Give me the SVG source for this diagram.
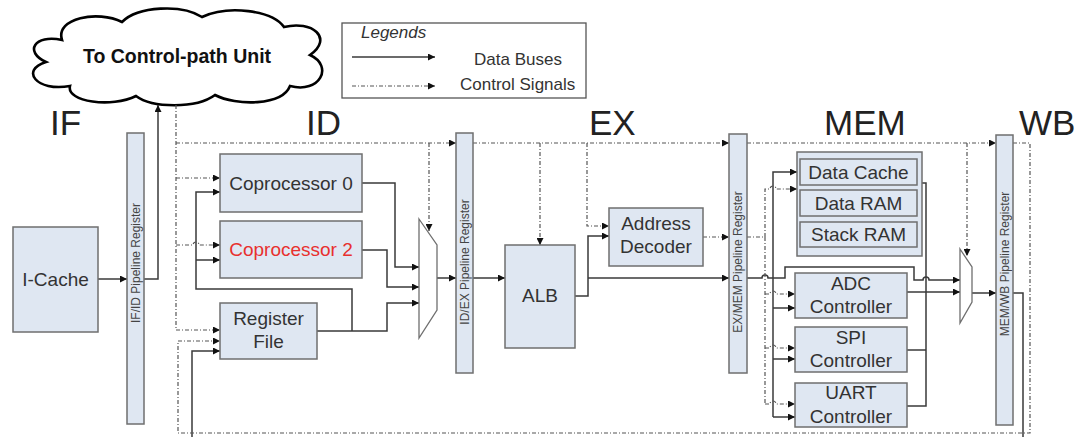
<svg xmlns="http://www.w3.org/2000/svg" width="1083" height="437" viewBox="0 0 1083 437">
  <defs>
    <marker id="arr" viewBox="0 0 10 10" refX="10" refY="5" markerWidth="10" markerHeight="7" markerUnits="userSpaceOnUse" orient="auto">
      <path d="M0,0 L10,5 L0,10 z" fill="#111"/>
    </marker>
    <style>
      text { font-family: "Liberation Sans", Arial, sans-serif; fill: #333; }
      .box { fill: #dfe7f2; stroke: #6f6f6f; stroke-width: 1.5; }
      .reg { fill: #dfe7f2; stroke: #6f6f6f; stroke-width: 1.5; }
      .mux { fill: #fff; stroke: #6f6f6f; stroke-width: 1.3; }
      .lbl { font-size: 19px; text-anchor: middle; }
      .stage { font-size: 35px; fill: #222; }
      .vreg { font-size: 12px; text-anchor: middle; fill: #444; }
      .data { fill: none; stroke: #3a3a3a; stroke-width: 1.5; }
      .ctrl { fill: none; stroke: #555; stroke-width: 1.2; stroke-dasharray: 4 2 1 2; }
      .arrow { marker-end: url(#arr); }
    </style>
  </defs>
  <rect width="1083" height="437" fill="#fff"/>

  <!-- cloud -->
  <g id="cloud">
    <path d="M62,40 C55,18 98,10 122,22 C138,6 182,4 202,17 C228,5 272,10 284,27 C312,20 334,38 310,55 C334,66 320,94 290,86 C282,106 236,106 215,95 C196,109 152,108 136,96 C112,108 66,102 70,86 C36,92 20,70 46,62 C24,52 34,34 62,40 Z" fill="#fff" stroke="#000" stroke-width="2.6"/>
    <text x="177" y="63" font-size="19.5" font-weight="bold" text-anchor="middle" style="fill:#111">To Control-path Unit</text>
  </g>

  <!-- legend -->
  <g id="legend">
    <rect x="342" y="23" width="244" height="75" fill="#fff" stroke="#555" stroke-width="1.3"/>
    <text x="361" y="38" font-size="17" font-style="italic">Legends</text>
    <path class="data arrow" d="M352,57 H435"/>
    <path class="ctrl arrow" d="M352,86 H435"/>
    <text x="474" y="65" font-size="17">Data Buses</text>
    <text x="460" y="90" font-size="17">Control Signals</text>
  </g>

  <!-- stage titles -->
  <g id="stages">
    <text class="stage" x="50" y="135">IF</text>
    <text class="stage" x="306" y="135">ID</text>
    <text class="stage" x="589" y="135">EX</text>
    <text class="stage" x="824" y="135">MEM</text>
    <text class="stage" x="1019" y="135">WB</text>
  </g>

  <!-- connectors -->
  <g id="connectors">
    <!-- data buses -->
    <path class="data arrow" d="M98,279 H127"/>
    <path class="data arrow" d="M144,279 H158 V105"/>
    <path class="data arrow" d="M362,183 H395 V267 H419"/>
    <path class="data arrow" d="M362,250 H387 V287 H419"/>
    <path class="data arrow" d="M317,331 H387 V303 H419"/>
    <path class="data arrow" d="M352,331 V289 H196 V192 H220"/>
    <path class="data arrow" d="M196,260 H220"/>
    <path class="data arrow" d="M437,278 H456"/>
    <path class="data arrow" d="M473,278 H505"/>
    <path class="data arrow" d="M575,296 H588 V236 H609"/>
    <path class="data arrow" d="M588,278 H729"/>
    <path class="data arrow" d="M747,278 H762 a3,3 0 0 1 6,0 H785 V267 H914 V280 H923 a3,3 0 0 1 6,0 H960"/>
    <path class="data arrow" d="M773,278 V172 H797"/>
    <path class="data" d="M773,278 V417"/>
    <path class="data arrow" d="M773,308 H795"/>
    <path class="data arrow" d="M773,359 H795"/>
    <path class="data arrow" d="M773,417 H795"/>
    <path class="data" d="M922,183 H926 V406 H907"/>
    <path class="data" d="M907,350 H926"/>
    <path class="data arrow" d="M907,292 H960"/>
    <path class="data arrow" d="M972,293 H996"/>
    <path class="data arrow" d="M1013,293 H1023 V439 H192 V351 H220"/>

    <!-- control signals -->
    <path class="ctrl arrow" d="M176,105 V330 H220"/>
    <path class="ctrl arrow" d="M176,143 H456"/>
    <path class="ctrl arrow" d="M176,178 H220"/>
    <path class="ctrl arrow" d="M176,245 H193 a3,3 0 0 1 6,0 H220"/>
    <path class="ctrl arrow" d="M429,143 V231"/>
    <path class="ctrl arrow" d="M473,143 H729"/>
    <path class="ctrl arrow" d="M540,143 V245"/>
    <path class="ctrl arrow" d="M587,143 V226 H609"/>
    <path class="ctrl arrow" d="M703,237 H729"/>
    <path class="ctrl arrow" d="M747,143 H996"/>
    <path class="ctrl arrow" d="M967,143 V256"/>
    <path class="ctrl arrow" d="M1013,143 H1030 V433 H178 V341 H220"/>
    <path class="ctrl" d="M747,237 H765"/>
    <path class="ctrl arrow" d="M765,237 V189 H770 a3,3 0 0 1 6,0 H797"/>
    <path class="ctrl" d="M765,237 V404"/>
    <path class="ctrl arrow" d="M765,294 H770 a3,3 0 0 1 6,0 H795"/>
    <path class="ctrl arrow" d="M765,348 H770 a3,3 0 0 1 6,0 H795"/>
    <path class="ctrl arrow" d="M765,404 H770 a3,3 0 0 1 6,0 H795"/>
  </g>

  <!-- IF stage -->
  <g id="icache">
    <rect class="box" x="13" y="227" width="85" height="105"/>
    <text class="lbl" x="55.5" y="286">I-Cache</text>
  </g>
  <g id="ifid-reg">
    <rect class="reg" x="127" y="133" width="17" height="291"/>
    <text class="vreg" transform="translate(140,263) rotate(-90)">IF/ID Pipeline Register</text>
  </g>

  <!-- ID stage -->
  <g id="coprocessor0">
    <rect class="box" x="220" y="154" width="142" height="58"/>
    <text class="lbl" x="291" y="190">Coprocessor 0</text>
  </g>
  <g id="coprocessor2">
    <rect class="box" x="220" y="221" width="142" height="57"/>
    <text class="lbl" x="291" y="256" style="fill:#e8302e">Coprocessor 2</text>
  </g>
  <g id="register-file">
    <rect class="box" x="220" y="303" width="97" height="56"/>
    <text class="lbl" x="268.5" y="325">Register</text>
    <text class="lbl" x="268.5" y="348">File</text>
  </g>
  <g id="id-mux">
    <polygon class="mux" points="419,219 437,245 437,310 419,338"/>
  </g>
  <g id="idex-reg">
    <rect class="reg" x="456" y="133" width="17" height="240"/>
    <text class="vreg" transform="translate(469,262) rotate(-90)">ID/EX Pipeline Register</text>
  </g>

  <!-- EX stage -->
  <g id="alb">
    <rect class="box" x="505" y="245" width="70" height="103"/>
    <text class="lbl" x="540" y="302">ALB</text>
  </g>
  <g id="address-decoder">
    <rect class="box" x="609" y="208" width="94" height="58"/>
    <text class="lbl" x="656" y="230">Address</text>
    <text class="lbl" x="656" y="253">Decoder</text>
  </g>
  <g id="exmem-reg">
    <rect class="reg" x="729" y="134" width="18" height="239"/>
    <text class="vreg" transform="translate(742,262) rotate(-90)">EX/MEM Pipeline Register</text>
  </g>

  <!-- MEM stage -->
  <g id="memory">
    <rect class="box" x="797" y="152" width="125" height="104"/>
    <rect class="box" x="800" y="159" width="117" height="26"/>
    <text class="lbl" x="858.5" y="179">Data Cache</text>
    <rect class="box" x="800" y="190" width="117" height="26"/>
    <text class="lbl" x="858.5" y="210">Data RAM</text>
    <rect class="box" x="800" y="222" width="117" height="25"/>
    <text class="lbl" x="858.5" y="241">Stack RAM</text>
  </g>
  <g id="adc-controller">
    <rect class="box" x="795" y="273" width="112" height="45"/>
    <text class="lbl" x="851" y="290">ADC</text>
    <text class="lbl" x="851" y="313">Controller</text>
  </g>
  <g id="spi-controller">
    <rect class="box" x="795" y="327" width="112" height="45"/>
    <text class="lbl" x="851" y="344">SPI</text>
    <text class="lbl" x="851" y="367">Controller</text>
  </g>
  <g id="uart-controller">
    <rect class="box" x="795" y="383" width="112" height="44"/>
    <text class="lbl" x="851" y="399">UART</text>
    <text class="lbl" x="851" y="423">Controller</text>
  </g>
  <g id="mem-mux">
    <polygon class="mux" points="960,249 972,267 972,302 960,323"/>
  </g>
  <g id="memwb-reg">
    <rect class="reg" x="996" y="135" width="17" height="290"/>
    <text class="vreg" transform="translate(1009,264) rotate(-90)">MEM/WB Pipeline Register</text>
  </g>
</svg>
